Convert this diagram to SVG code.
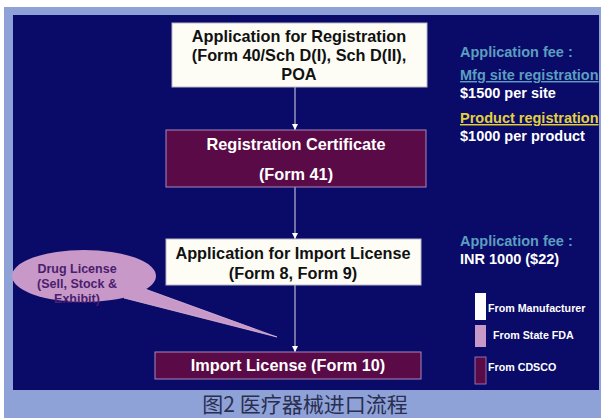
<svg xmlns="http://www.w3.org/2000/svg" width="601" height="418" viewBox="0 0 601 418">
  <defs>
    <marker id="arrow" viewBox="0 0 6 6" refX="6" refY="3" markerWidth="6" markerHeight="6" markerUnits="userSpaceOnUse" orient="auto">
      <path d="M0,0 L6,3 L0,6 Z" fill="#ffffff"/>
    </marker>
    <style>
      .t { font-family: "Liberation Sans", Arial, sans-serif; font-weight: bold; }
      .box-w { fill: #fdfdf6; stroke: #b8b8c8; stroke-width: 1; }
      .box-p { fill: #5a0a46; stroke: #a888b8; stroke-width: 1; }
      .dark { fill: #111111; font-size: 16.3px; }
      .light { fill: #ffffff; font-size: 16.3px; }
      .fee { fill: #5b9ec0; font-size: 14.5px; }
      .val { fill: #ffffff; font-size: 14.5px; }
      .leg { fill: #ffffff; font-size: 10.7px; }
      .bub { fill: #4a1e6e; font-size: 12.5px; }
      .conn { stroke: #d8d8e8; stroke-width: 1; fill: none; marker-end: url(#arrow); }
    </style>
  </defs>

  <!-- page background and frame -->
  <rect x="0" y="0" width="601" height="418" fill="#ffffff"/>
  <rect x="4" y="7" width="597" height="411" fill="#8ea2d8"/>
  <rect x="13" y="15" width="586" height="375" fill="#0a0a68"/>

  <!-- connectors -->
  <g id="connectors">
    <line class="conn" x1="295" y1="87" x2="295" y2="130"/>
    <line class="conn" x1="295" y1="187" x2="295" y2="239"/>
    <line class="conn" x1="295" y1="285" x2="295" y2="352"/>
  </g>

  <g id="app-registration">
    <rect class="box-w" x="172" y="23" width="255" height="64"/>
    <text class="t dark" text-anchor="middle" x="299" y="42">Application for Registration</text>
    <text class="t dark" text-anchor="middle" x="299" y="61">(Form 40/Sch D(I), Sch D(II),</text>
    <text class="t dark" text-anchor="middle" x="299" y="80">POA</text>
  </g>

  <g id="registration-certificate">
    <rect class="box-p" x="166" y="130" width="260" height="57"/>
    <text class="t light" text-anchor="middle" x="296" y="150">Registration Certificate</text>
    <text class="t light" text-anchor="middle" x="296" y="180">(Form 41)</text>
  </g>

  <g id="app-import-license">
    <rect class="box-w" x="166" y="239" width="255" height="46"/>
    <text class="t dark" text-anchor="middle" x="293" y="259">Application for Import License</text>
    <text class="t dark" text-anchor="middle" x="293" y="279">(Form 8, Form 9)</text>
  </g>

  <g id="import-license">
    <rect class="box-p" x="155" y="352" width="266" height="27"/>
    <text class="t light" text-anchor="middle" x="288" y="371">Import License (Form 10)</text>
  </g>

  <!-- speech-bubble callout -->
  <g id="drug-license">
    <path d="M145,289 L277,337 L124,298 Z" fill="#c898c8" stroke="#d8b8d8" stroke-width="0.8"/>
    <ellipse cx="84" cy="276" rx="72" ry="26" fill="#c898c8"/>
    <path d="M143,290 L127,297" stroke="#c898c8" stroke-width="3"/>
    <text class="t bub" text-anchor="middle" x="77" y="273">Drug License</text>
    <text class="t bub" text-anchor="middle" x="77" y="288">(Sell, Stock &amp;</text>
    <text class="t bub" text-anchor="middle" x="77" y="303">Exhibit)</text>
  </g>

  <!-- fee notes -->
  <g id="fees-registration">
    <text class="t fee" x="460" y="57">Application fee :</text>
    <text class="t fee" x="460" y="80" text-decoration="underline">Mfg site registration</text>
    <text class="t val" x="460" y="98">$1500 per site</text>
    <text class="t" fill="#e2d040" font-size="14.5" x="460" y="123" text-decoration="underline">Product registration</text>
    <text class="t val" x="460" y="141">$1000 per product</text>
  </g>

  <g id="fees-import">
    <text class="t fee" x="460" y="246">Application fee :</text>
    <text class="t val" x="460" y="264">INR 1000 ($22)</text>
  </g>

  <!-- legend -->
  <g id="legend">
    <rect x="475" y="293" width="11" height="27" fill="#ffffff"/>
    <text class="t leg" x="488" y="312">From Manufacturer</text>
    <rect x="475" y="325" width="11" height="22" fill="#c898c8"/>
    <text class="t leg" x="493" y="339">From State FDA</text>
    <rect x="475" y="357" width="11" height="27" fill="#5a0a46" stroke="#a888b8" stroke-width="0.8"/>
    <text class="t leg" x="488" y="371">From CDSCO</text>
  </g>

  <text x="305" y="412" text-anchor="middle" font-family="'Noto Sans CJK SC', serif" font-size="21" fill="#2a2e50">图2 医疗器械进口流程</text>
</svg>
